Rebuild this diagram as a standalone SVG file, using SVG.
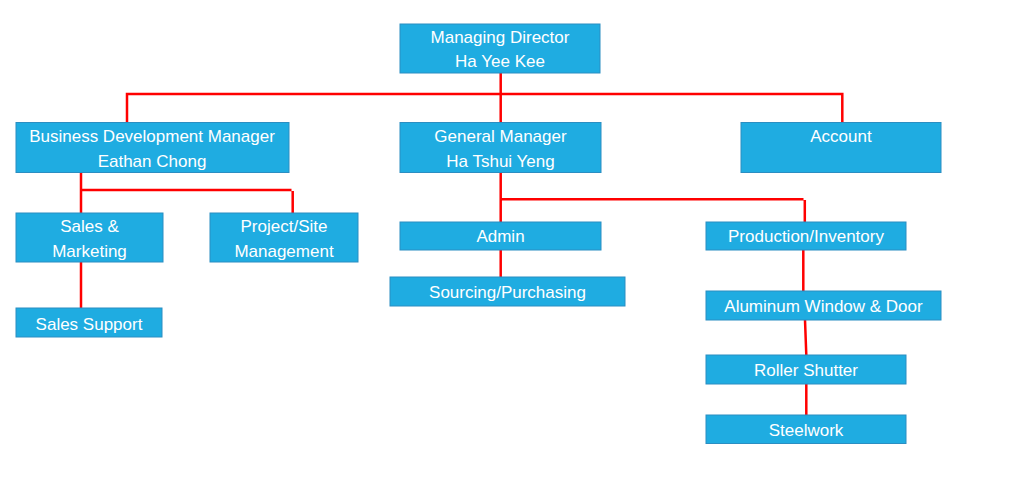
<svg xmlns="http://www.w3.org/2000/svg" width="1024" height="489" viewBox="0 0 1024 489">
<style>
.box{fill:#1FACE1;stroke:#2B8EC2;stroke-width:1}
.t{font-family:"Liberation Sans",Arial,sans-serif;font-size:17px;fill:#FFFFFF;text-anchor:middle}
.c{stroke:#FF0000;stroke-width:2.5;fill:none}
</style>
<rect width="1024" height="489" fill="#FFFFFF"/>
<g id="connectors">
<path class="c" d="M500.7 73V94M127 94H842.5M127 92.8V122.5M842.3 92.8V122.5M500.7 94V122.5"/>
<path class="c" d="M81 172.5V213M81 190H291.5M292.7 191V213"/>
<path class="c" d="M81 262V308"/>
<path class="c" d="M500.7 172.5V222M500.7 199.3H803.5M804.8 200V222"/>
<path class="c" d="M500.7 250V277"/>
<path class="c" d="M803.3 250V291M805 320L806.3 355M806.3 384V415"/>
</g>
<g id="md"><rect class="box" x="400" y="24" width="200" height="49"/><text class="t" x="500" y="42.5">Managing Director</text><text class="t" x="500" y="66.5">Ha Yee Kee</text></g>
<g id="bdm"><rect class="box" x="16" y="122.5" width="273" height="50"/><text class="t" x="152" y="141.5">Business Development Manager</text><text class="t" x="152" y="166.5">Eathan Chong</text></g>
<g id="gm"><rect class="box" x="400" y="122.5" width="201" height="50"/><text class="t" x="500.5" y="141.5">General Manager</text><text class="t" x="500.5" y="166.5">Ha Tshui Yeng</text></g>
<g id="account"><rect class="box" x="741" y="122.5" width="200" height="50"/><text class="t" x="841" y="142">Account</text></g>
<g id="sales"><rect class="box" x="16" y="213" width="147" height="49"/><text class="t" x="89.5" y="231.5">Sales &amp;</text><text class="t" x="89.5" y="256.5">Marketing</text></g>
<g id="project"><rect class="box" x="210" y="213" width="148" height="49"/><text class="t" x="284" y="231.5">Project/Site</text><text class="t" x="284" y="256.5">Management</text></g>
<g id="salessupport"><rect class="box" x="16" y="308" width="146" height="29"/><text class="t" x="89" y="330">Sales Support</text></g>
<g id="admin"><rect class="box" x="400" y="222" width="201" height="28"/><text class="t" x="500.5" y="242.3">Admin</text></g>
<g id="sourcing"><rect class="box" x="390" y="277" width="235" height="29"/><text class="t" x="507.5" y="298.3">Sourcing/Purchasing</text></g>
<g id="production"><rect class="box" x="706" y="222" width="200" height="28"/><text class="t" x="806" y="242.3">Production/Inventory</text></g>
<g id="aluminum"><rect class="box" x="706" y="291" width="235" height="29"/><text class="t" x="823.5" y="312.3">Aluminum Window &amp; Door</text></g>
<g id="roller"><rect class="box" x="706" y="355" width="200" height="29"/><text class="t" x="806" y="375.7">Roller Shutter</text></g>
<g id="steelwork"><rect class="box" x="706" y="415" width="200" height="28.5"/><text class="t" x="806" y="435.7">Steelwork</text></g>
</svg>
